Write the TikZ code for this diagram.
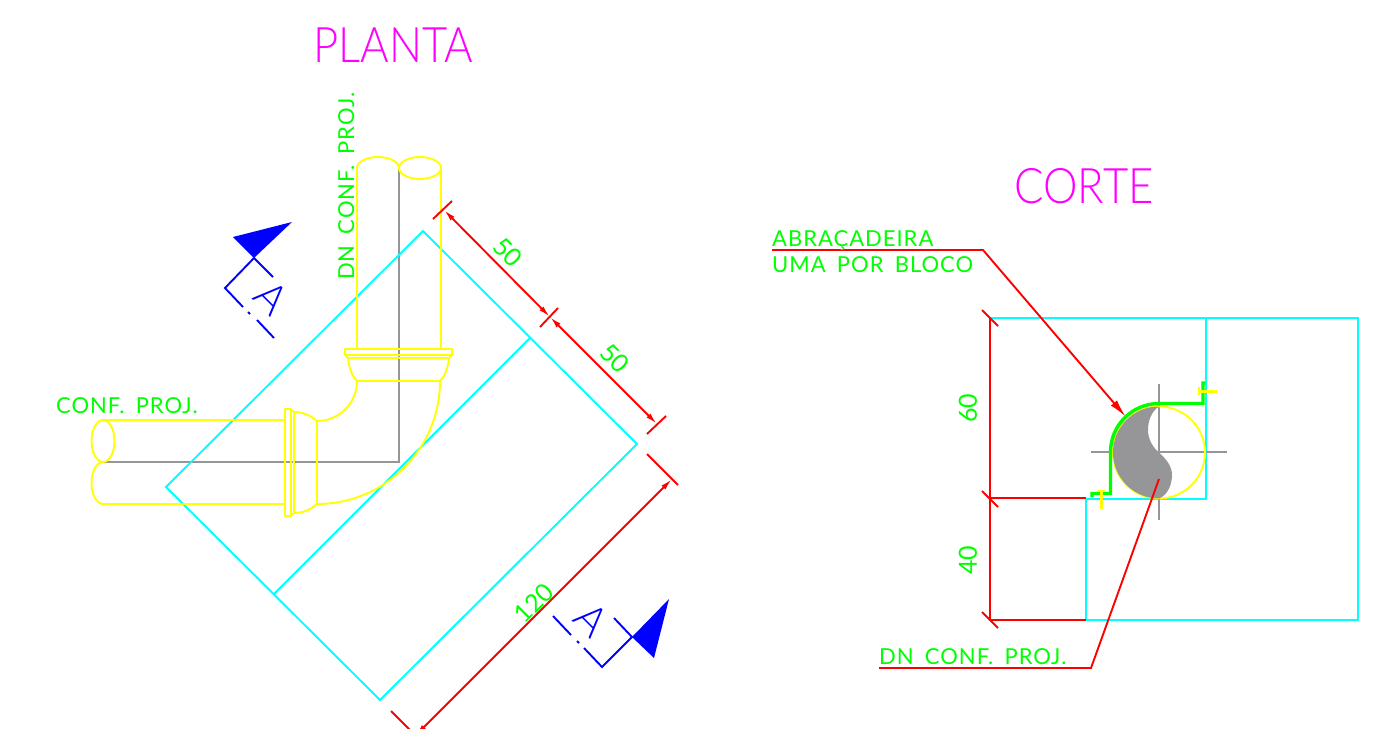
\documentclass[tikz,border=0pt]{standalone}
\usepackage{fontspec}
\setmainfont{Lato Light}
\newfontfamily\notefont[LetterSpace=4.5,WordSpace=1.7]{Lato}
\newfontfamily\digitfont{Lato}
\usetikzlibrary{arrows.meta}
\definecolor{cadyellow}{RGB}{255,255,0}
\definecolor{cadcyan}{RGB}{0,255,255}
\definecolor{cadgreen}{RGB}{0,255,0}
\definecolor{cadred}{RGB}{255,0,0}
\definecolor{cadblue}{RGB}{0,0,255}
\definecolor{cadmag}{RGB}{255,0,255}
\definecolor{cadgrey}{RGB}{150,150,153}
\tikzset{
  x=1pt,y=-1pt,
  pipe/.style={draw=cadyellow,line width=1.9pt,line join=round},
  wall/.style={draw=cadcyan,line width=1.9pt,line join=miter},
  dim/.style={draw=cadred,line width=1.9pt},
  dimarrow/.style={draw=cadred,line width=1.9pt,{Latex[length=12pt,width=5.5pt]}-{Latex[length=12pt,width=5.5pt]}},
  sect/.style={draw=cadblue,line width=1.9pt},
  centre/.style={draw=cadgrey,line width=1.6pt},
  title/.style={text=cadmag,inner sep=0pt,xscale=.89,font=\fontsize{49}{49}\selectfont},
  note/.style={text=cadgreen,inner sep=0pt,anchor=base west,font=\notefont\fontsize{22}{22}\selectfont},
  digits/.style={text=cadgreen,inner sep=0pt,font=\digitfont\fontsize{25}{25}\selectfont},
  letter/.style={text=cadblue,inner sep=0pt,font=\fontsize{42}{42}\selectfont,rotate=-45},
}
\begin{document}
\begin{tikzpicture}
\useasboundingbox (0,0) rectangle (1394,728);
\clip (0,0) rectangle (1394,728);
\fill[white] (0,0) rectangle (1394,728);

% ---------- PLANTA
\draw[centre] (399,168) -- (399,462) -- (103,462);
\draw[wall] (423,231) -- (637,444) -- (380,700) -- (166,487) -- cycle;
\draw[wall] (530,338) -- (274,594);

% vertical pipe
\draw[pipe] (357,349) -- (357,168) arc[start angle=180,end angle=360,x radius=21,y radius=11];
\draw[pipe] (420,168) ellipse[x radius=21,y radius=11];
\draw[pipe] (441,168) -- (441,349);
% horizontal pipe
\draw[pipe] (103,441) ellipse[x radius=11.5,y radius=21];
\draw[pipe] (103,420) -- (285,420);
\draw[pipe] (285,504) -- (103,504) arc[start angle=90,end angle=270,x radius=11.5,y radius=21];
% flanges
\draw[pipe] (345,349) rectangle (452,355);
\draw[pipe] (345,355) -- (348,358) -- (449,358) -- (452,355);
\draw[pipe] (285,409) rectangle (291,516);
\draw[pipe] (291,409) -- (294,412) -- (294,513) -- (291,516);
% bells
\draw[pipe] (348,358) .. controls (349,368) and (352,376) .. (357,381) -- (440,381)
  .. controls (445,376) and (448,368) .. (449,358);
\draw[pipe] (294,412) .. controls (304,412) and (311,416) .. (317,421) -- (317,504)
  .. controls (311,509) and (304,513) .. (294,513);
% elbow
\draw[pipe] (357,381) arc[start angle=0,end angle=90,radius=40];
\draw[pipe] (440,381) arc[start angle=0,end angle=90,radius=123];

% dimensions
\coordinate (d1) at (444,210);
\coordinate (d2) at (550,317);
\coordinate (d3) at (657,424);
\coordinate (d4) at (672,479);
\coordinate (d5) at (415.5,735.5);
\draw[dim] (433,219) -- (452,201);
\draw[dim] (540,327) -- (558,308);
\draw[dim] (647,434) -- (666,416);
\draw[dimarrow] (d1) -- (d2);
\draw[dimarrow] (d2) -- (d3);
\draw[dim] (647,454) -- (678,485);
\draw[dim] (391,711) -- (422,742);
\draw[dimarrow] (d4) -- (d5);

\node[digits,rotate=-45] (n50a) at (508,252) {50};
\node[digits,rotate=-45] (n50b) at (615,358) {50};
\node[digits,rotate=45] (n120) at (534,603) {120};

\node[title] (planta) at (393,45) {PLANTA};
\node[note] (confproj) at (56,413) {CONF. PROJ.};
\node[note,rotate=90] (dnv) at (354,280) {DN CONF. PROJ.};

% section marks
\fill[cadblue] (233,237) -- (292,222) -- (254,258) -- cycle;
\draw[sect] (273,277) -- (254,258) -- (225,288) -- (243,307);
\draw[sect] (248,312) -- (250,314);
\draw[sect] (257,320) -- (274,338);
\node[letter] (a1) at (272,298) {A};
\fill[cadblue] (632,637) -- (669,599) -- (654,658) -- cycle;
\draw[sect] (614,618) -- (632,637) -- (602,667) -- (584,648);
\draw[sect] (577,641) -- (579,643);
\draw[sect] (571,635) -- (553,616);
\node[letter] (a2) at (592,620) {A};

% ---------- CORTE
\draw[wall] (990,318) -- (1358,318) -- (1358,620) -- (1086,620) -- (1086,499) -- (1206,499) -- (1206,318);
\draw[dim] (990,318) -- (990,620);
\draw[dim] (990,498) -- (1086,498);
\draw[dim] (990,620) -- (1086,620);
\draw[dim] (982,310) -- (998,326);
\draw[dim] (982,491) -- (998,507);
\draw[dim] (982,612) -- (998,628);

\draw[centre] (1091,452) -- (1227,452);
\draw[centre] (1159,384) -- (1159,520);
\draw[pipe] (1159,452.5) circle[radius=46];
\fill[cadgrey] (1159,406.5) arc[start angle=270,end angle=90,radius=46]
  .. controls (1168,495) and (1172,484) .. (1172,475)
  .. controls (1172,466) and (1166,459) .. (1159,452.5)
  .. controls (1152,447) and (1148,438) .. (1148,430)
  .. controls (1148,420) and (1152,411) .. (1159,406.5) -- cycle;
\draw[draw=cadgreen,line width=3.4pt] (1092,497) -- (1092,493.5) -- (1110.5,493.5) -- (1110.5,452)
  arc[start angle=180,end angle=270,radius=48.5] -- (1203,403.5) -- (1203,383) -- (1205,383);
\draw[draw=cadyellow,line width=3pt] (1198,391) -- (1217,391);
\draw[draw=cadyellow,line width=2pt] (1199,387) -- (1199,395);
\draw[draw=cadyellow,line width=3pt] (1101,490) -- (1101,509);
\draw[draw=cadyellow,line width=2pt] (1097,491) -- (1105,491);

\coordinate (lead1) at (1125.7,416.7);
\coordinate (lead2) at (1159,479);
\draw[draw=cadred,line width=1.9pt,-{Latex[length=18pt,width=8pt]}] (772,250) -- (983,250) -- (lead1);
\draw[draw=cadred,line width=1.9pt] (879,668) -- (1091,668) -- (lead2);

\node[title] (corte) at (1084,186) {CORTE};
\node[note] (abra) at (772,246) {ABRAÇADEIRA};
\node[note] (uma) at (772,272) {UMA POR BLOCO};
\node[note] (dn) at (879,664) {DN CONF. PROJ.};
\node[digits,rotate=90] (n60) at (968,408) {60};
\node[digits,rotate=90] (n40) at (968,560) {40};
\end{tikzpicture}
\end{document}
